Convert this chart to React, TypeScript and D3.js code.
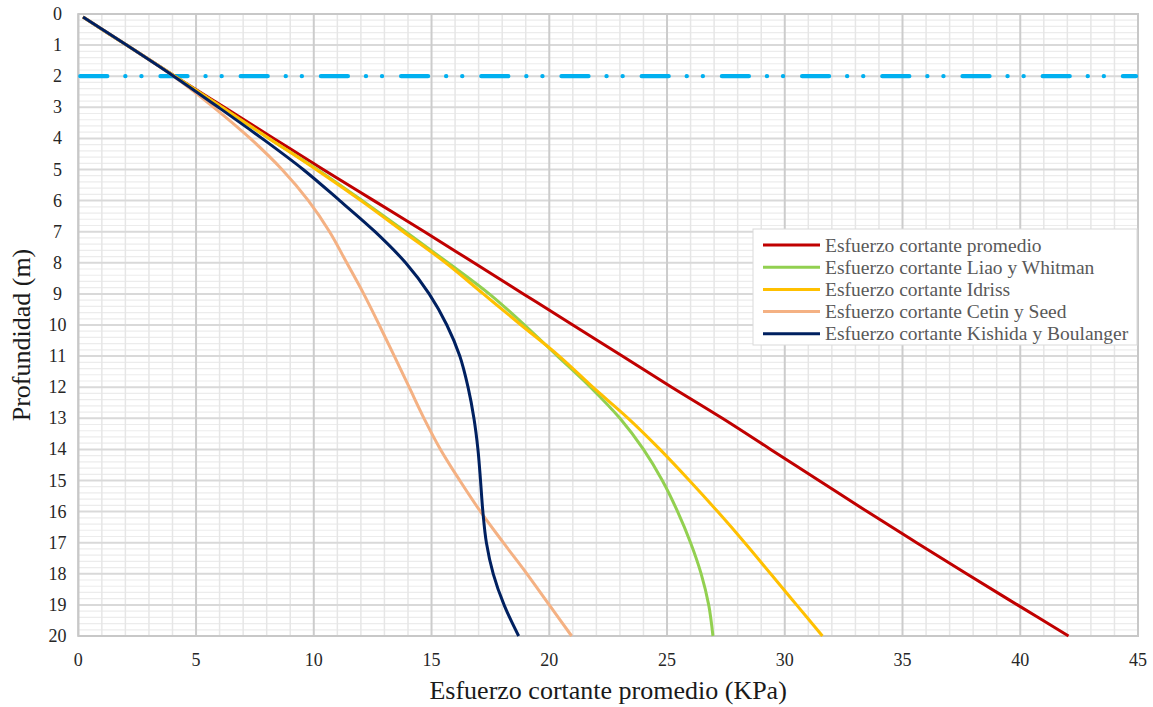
import React from "react";
import * as d3 from "d3";

const depths = [0.1, 1, 2, 3, 4, 5, 6, 7, 8, 9, 10, 11, 12, 13, 14, 15, 16, 17, 18, 19, 20];
const promedio = [0.2, 2.05, 4.1, 6.2, 8.3, 10.4, 12.55, 14.7, 16.8, 18.9, 21.0, 23.1, 25.2, 27.35, 29.4, 31.45, 33.5, 35.6, 37.72, 39.88, 42.05];
const liaoWhitman = [0.2, 2.05, 4.1, 6.1, 8.1, 10.15, 12.05, 13.9, 15.7, 17.45, 18.95, 20.35, 21.75, 23.0, 24.0, 24.8, 25.45, 26.0, 26.45, 26.77, 26.95];
const idriss = [0.2, 2.05, 4.1, 6.1, 8.1, 10.1, 12.0, 13.8, 15.6, 17.2, 18.8, 20.42, 21.85, 23.35, 24.7, 25.95, 27.15, 28.3, 29.4, 30.5, 31.6];
const cetinSeed = [0.2, 2.05, 4.05, 5.75, 7.3, 8.65, 9.77, 10.67, 11.4, 12.12, 12.78, 13.42, 14.05, 14.68, 15.38, 16.2, 17.08, 18.05, 19.05, 20.0, 20.95];
const kishida = [0.2, 2.05, 4.05, 5.95, 7.8, 9.55, 11.1, 12.6, 13.9, 14.9, 15.65, 16.2, 16.55, 16.8, 16.97, 17.08, 17.18, 17.33, 17.62, 18.08, 18.7];

const seriesNames = [
  "Esfuerzo cortante promedio",
  "Esfuerzo cortante Liao y Whitman",
  "Esfuerzo cortante Idriss",
  "Esfuerzo cortante Cetin y Seed",
  "Esfuerzo cortante Kishida y Boulanger",
];
const seriesValues = [promedio, liaoWhitman, idriss, cetinSeed, kishida];
const seriesColors = ["#C00000", "#92D050", "#FFC000", "#F4B183", "#002060"];

const xTicks = [0, 5, 10, 15, 20, 25, 30, 35, 40, 45];
const yTicks = d3.range(0, 21);
const waterTableDepth = 2;

const xTitle = "Esfuerzo cortante promedio (KPa)";
const yTitle = "Profundidad (m)";

export default function App() {
  const W = 1153, H = 707;
  const left = 78.3, right = 1138, top = 14, bottom = 636;
  const x = d3.scaleLinear().domain([0, 45]).range([left, right]);
  const y = d3.scaleLinear().domain([0, 20]).range([top, bottom]);
  const font = "'Liberation Serif', 'Times New Roman', serif";

  const minorX = d3.range(0, 46, 1).filter((v) => v % 5 !== 0);
  const majorX = d3.range(0, 46, 5);
  const minorY = d3.range(0, 100).map((i) => i * 0.2).filter((v, i) => i % 5 !== 0);
  const majorY = d3.range(0, 21);

  const line = d3
    .line<[number, number]>()
    .x((d) => x(d[0]))
    .y((d) => y(d[1]))
    .curve(d3.curveCatmullRom.alpha(0.5));

  const legendX = 753, legendY = 229, legendW = 384, legendH = 116;

  return (
    <svg width={W} height={H} style={{ position: "absolute", left: 0, top: 0 }} fontFamily={font}>
      <rect x={0} y={0} width={W} height={H} fill="#fff" />
      {minorY.map((v) => (
        <line key={"my" + v} x1={left} x2={right} y1={y(v)} y2={y(v)} stroke="#ececec" strokeWidth={1.2} />
      ))}
      {minorX.map((v) => (
        <line key={"mx" + v} x1={x(v)} x2={x(v)} y1={top} y2={bottom} stroke="#e6e6e6" strokeWidth={1.5} />
      ))}
      {majorY.map((v) => (
        <line key={"My" + v} x1={left} x2={right} y1={y(v)} y2={y(v)} stroke="#d9d9d9" strokeWidth={2} />
      ))}
      {majorX.map((v) => (
        <line key={"Mx" + v} x1={x(v)} x2={x(v)} y1={top} y2={bottom} stroke="#cccccc" strokeWidth={2} />
      ))}
      <rect x={left} y={top} width={right - left} height={bottom - top} fill="none" stroke="#c8c8c8" strokeWidth={2} />

      <line
        x1={x(0) + 2}
        x2={right - 2}
        y1={y(waterTableDepth)}
        y2={y(waterTableDepth)}
        stroke="#00B0F0"
        strokeWidth={4.3}
        strokeLinecap="round"
        strokeDasharray="27 18 0.1 16 0.1 19"
      />

      {seriesValues.map((vals, i) => (
        <path
          key={seriesNames[i]}
          d={line(vals.map((v, j) => [v, depths[j]] as [number, number])) || ""}
          fill="none"
          stroke={seriesColors[i]}
          strokeWidth={3}
          strokeLinejoin="round"
        />
      ))}

      {xTicks.map((t) => (
        <text key={"xt" + t} x={x(t)} y={666} textAnchor="middle" fontSize={18} fill="#262626">
          {t}
        </text>
      ))}
      {yTicks.map((t) => (
        <text key={"yt" + t} x={57.5} y={y(t) + 6} textAnchor="middle" fontSize={18} fill="#262626">
          {t}
        </text>
      ))}

      <text x={(left + right) / 2} y={699} textAnchor="middle" fontSize={26} fill="#1a1a1a">
        {xTitle}
      </text>
      <text
        transform={`translate(30, ${(top + bottom) / 2 + 10}) rotate(-90)`}
        textAnchor="middle"
        fontSize={26}
        fill="#1a1a1a"
      >
        {yTitle}
      </text>

      <rect x={legendX} y={legendY} width={legendW} height={legendH} fill="#fff" stroke="#d9d9d9" strokeWidth={1} />
      {seriesNames.map((n, i) => {
        const ly = 245 + i * 22.2;
        return (
          <g key={"lg" + i}>
            <line x1={763} x2={820} y1={ly} y2={ly} stroke={seriesColors[i]} strokeWidth={3} />
            <text x={825} y={ly + 6.5} fontSize={19.5} fill="#595959">
              {n}
            </text>
          </g>
        );
      })}
    </svg>
  );
}
